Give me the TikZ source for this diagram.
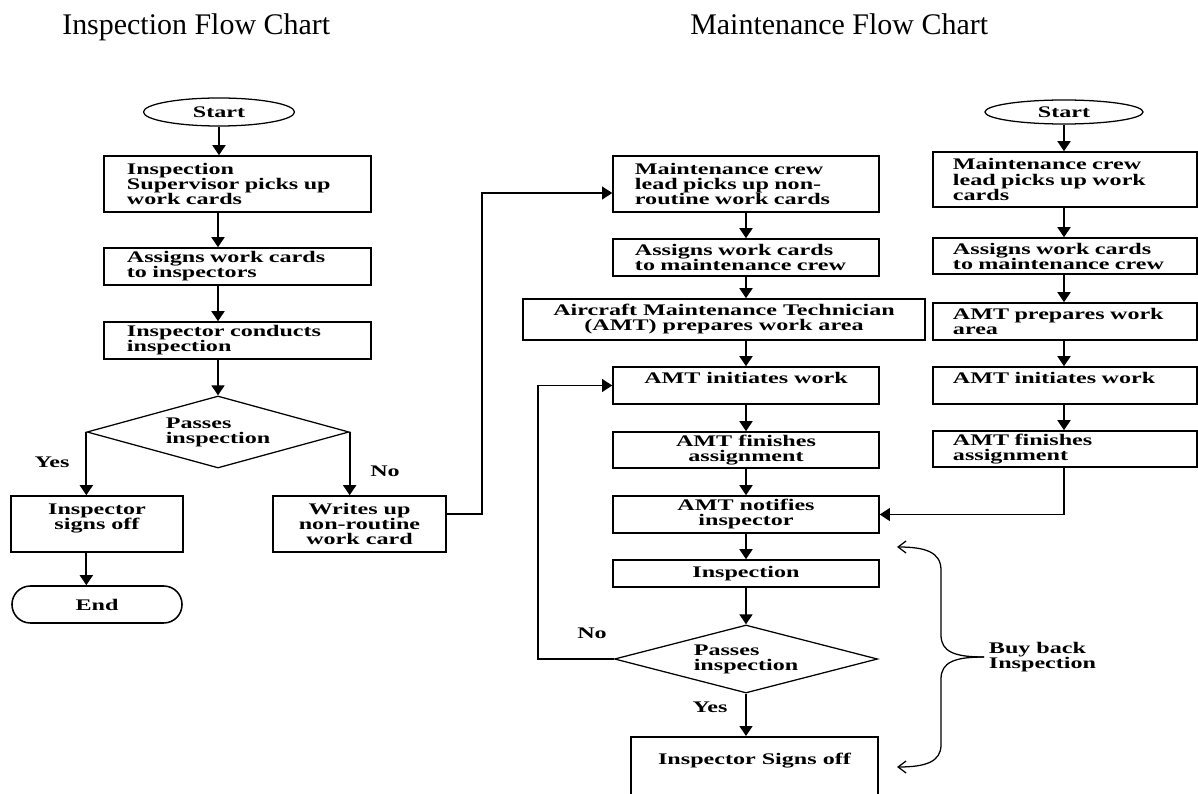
\documentclass[tikz,border=0pt]{standalone}
\usepackage{fontspec}
\setmainfont{Liberation Serif}
\newfontfamily\chartfont[FakeStretch=1.49]{Liberation Serif}
\usetikzlibrary{arrows.meta, positioning, shapes.geometric}

\begin{document}
\begin{tikzpicture}[x=0.025cm, y=-0.025cm,
      ttl/.style={font=\fontsize{21.3}{24}\selectfont, anchor=base west, inner sep=0pt},
      txt/.style={font=\chartfont\bfseries\fontsize{11.5}{10.7}\selectfont},
      box/.style={txt, draw, line width=1.1pt, inner sep=0pt, align=center},
      lbox/.style={txt, draw, line width=1.1pt, inner ysep=0pt, align=left},
      term/.style={txt, draw, ellipse, line width=0.9pt, inner sep=0pt},
      dec/.style={txt, draw, diamond, aspect=3.6, line width=0.9pt, inner sep=0pt, align=left},
      arr/.style={-{Triangle[length=0.25cm, width=0.32cm]}, line width=1.6pt},
      link/.style={-{Triangle[length=0.25cm, width=0.32cm]}, line width=1pt},
      brarr/.style={-{Straight Barb[length=0.2cm, width=0.3cm]}, line width=0.9pt}]

    \useasboundingbox (0,0) rectangle (1198,794);
    \clip (0,0) rectangle (1198,794);

    % ===== Titles =====
    \node[ttl] (ttlL) at (62,35)  {Inspection Flow Chart};
    \node[ttl] (ttlR) at (690,35) {Maintenance Flow Chart};

    % ===== Inspection chart =====
    \node[term, minimum width=3.775cm, minimum height=0.7cm] (startL) at (219,112) {Start};
    \node[lbox, text width=5.525cm, inner xsep=0.575cm, minimum height=1.4cm]
        (L1) at (237.5,184) {Inspection\\Supervisor picks up\\work cards};
    \node[lbox, text width=5.525cm, inner xsep=0.575cm, minimum height=0.925cm]
        (L2) at (237.5,266.5) {Assigns work cards\\to inspectors};
    \node[lbox, text width=5.525cm, inner xsep=0.575cm, minimum height=0.925cm]
        (L3) at (237.5,340.5) {Inspector conducts\\inspection};
    \node[dec, minimum width=6.55cm, minimum height=1.8cm] (D1) at (218,432) {Passes\\inspection};
    \node[box, minimum width=4.3cm, minimum height=1.4cm] (L4) at (97,524) {Inspector\\signs off\\\mbox{}};
    \node[box, minimum width=4.325cm, minimum height=1.4cm] (L5) at (359.5,524) {Writes up\\non-routine\\work card};
    \node[box, rounded corners=0.46cm, minimum width=4.25cm, minimum height=0.925cm] (endL) at (97,604.5) {End};

    \node[txt] (yesL) at (52,462)  {Yes};
    \node[txt] (noL)  at (385,471) {No};

    \draw[arr] (startL.south) -- (startL.south |- L1.north);
    \draw[arr] (L1.south -| D1) -- (L2.north -| D1);
    \draw[arr] (L2.south -| D1) -- (L3.north -| D1);
    \draw[arr] (L3.south -| D1) -- (D1.north);
    \draw[arr] (D1.west) -- (D1.west |- L4.north);
    \draw[arr] (L4.south -| D1.west) -- (endL.north -| D1.west);
    \draw[arr] (D1.east) -- (D1.east |- L5.north);

    % non-routine card goes over to the maintenance side
    \coordinate (jogA) at (482,514);
    \coordinate (jogB) at (482,193);

    % ===== Maintenance chart: non-routine column =====
    \node[lbox, text width=5.55cm, inner xsep=0.55cm, minimum height=1.4cm]
        (M1) at (746,184) {Maintenance crew\\lead picks up non-\\routine work cards};
    \node[lbox, text width=5.55cm, inner xsep=0.55cm, minimum height=0.925cm]
        (M2) at (746,257.5) {Assigns work cards\\to maintenance crew};
    \node[box, minimum width=10.05cm, minimum height=1.025cm]
        (M3) at (724,319.5) {Aircraft Maintenance Technician\\(AMT) prepares work area};
    \node[box, minimum width=6.65cm, minimum height=0.925cm] (M4) at (746,385.5) {AMT initiates work\\\mbox{}};
    \node[box, minimum width=6.65cm, minimum height=0.9cm]   (M5) at (746,450)   {AMT finishes\\assignment};
    \node[box, minimum width=6.65cm, minimum height=0.925cm] (M6) at (746,514.5) {AMT notifies\\inspector};
    \node[box, minimum width=6.65cm, minimum height=0.675cm] (M7) at (746,573.5) {Inspection};
    \node[dec, minimum width=6.575cm, minimum height=1.7cm]  (D2) at (746,659)   {Passes\\inspection};
    \node[txt, draw, line width=1.1pt, anchor=north, minimum width=6.175cm, inner ysep=0.4cm, text depth=1.5cm]
        (M8) at (754.5,736) {Inspector Signs off};

    \node[txt] (noM)  at (592,633) {No};
    \node[txt] (yesM) at (710,707) {Yes};

    \draw[link] (jogA -| L5.east) -- (jogA) -- (jogB) -- (jogB -| M1.west);

    \draw[arr] (M1.south) -- (M2.north);
    \draw[arr] (M2.south) -- (M2.south |- M3.north);
    \draw[arr] (M3.south -| M4) -- (M4.north);
    \draw[arr] (M4.south) -- (M5.north);
    \draw[arr] (M5.south) -- (M6.north);
    \draw[arr] (M6.south) -- (M7.north);
    \draw[arr] (M7.south) -- (D2.north);
    \draw[arr] (D2.south) -- (D2.south |- M8.north);

    \coordinate (back) at (538,659);
    \draw[link] (D2.west) -- (back) |- (M4.west);

    % ===== Maintenance chart: routine column =====
    \node[term, minimum width=3.95cm, minimum height=0.6cm] (startR) at (1064,112) {Start};
    \node[lbox, text width=5.6cm, inner xsep=0.5cm, minimum height=1.375cm]
        (R1) at (1065,179.5) {Maintenance crew\\lead picks up work\\cards};
    \node[lbox, text width=5.6cm, inner xsep=0.5cm, minimum height=0.9cm]
        (R2) at (1065,256) {Assigns work cards\\to maintenance crew};
    \node[lbox, text width=5.6cm, inner xsep=0.5cm, minimum height=0.925cm]
        (R3) at (1065,321.5) {AMT prepares work\\area};
    \node[lbox, text width=5.6cm, inner xsep=0.5cm, minimum height=0.925cm]
        (R4) at (1065,385.5) {AMT initiates work\\\mbox{}};
    \node[lbox, text width=5.6cm, inner xsep=0.5cm, minimum height=0.9cm]
        (R5) at (1065,449) {AMT finishes\\assignment};

    \draw[arr] (startR.south) -- (startR.south |- R1.north);
    \draw[arr] (R1.south -| startR) -- (R2.north -| startR);
    \draw[arr] (R2.south -| startR) -- (R3.north -| startR);
    \draw[arr] (R3.south -| startR) -- (R4.north -| startR);
    \draw[arr] (R4.south -| startR) -- (R5.north -| startR);
    \draw[link, line width=1.2pt] (R5.south -| startR) |- (M6.east);

    % ===== Buy back brace =====
    \node[txt, anchor=west, align=left] (bb) at (984,657) {Buy back\\Inspection};
    \draw[brarr] (bb.west) .. controls (955,657) and (941,652) .. (941,635)
        -- (941,570) .. controls (941,552) and (925,547) .. (897,547);
    \draw[brarr] (bb.west) .. controls (955,657) and (941,662) .. (941,679)
        -- (941,745) .. controls (941,762) and (925,767) .. (897,767);

\end{tikzpicture}
\end{document}
